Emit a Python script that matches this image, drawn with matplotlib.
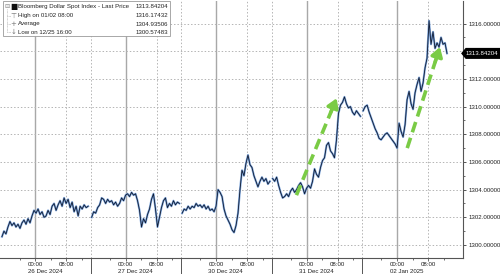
import numpy as np
import matplotlib
matplotlib.use('Agg')
import matplotlib.pyplot as plt
from matplotlib.patches import Rectangle, Polygon
from matplotlib.lines import Line2D
from matplotlib import font_manager

names = {f.name for f in font_manager.fontManager.ttflist}
main_font = 'Liberation Sans Narrow' if 'Liberation Sans Narrow' in names else 'Liberation Sans'
plt.rcParams['font.family'] = [main_font, 'DejaVu Sans']
FS = 5 if main_font == 'Liberation Sans Narrow' else 4.4

# sessions (trading day), hour offsets relative to midnight of that day
dates = ['26 Dec 2024', '27 Dec 2024', '30 Dec 2024', '31 Dec 2024', '02 Jan 2025']
hour_ranges = [(-8.5, 13.6), (-8.7, 13.8), (-8.7, 13.8), (-8.7, 13.8), (-8.7, 12.8)]

s26 = [1300.6, 1301.0, 1300.8, 1301.3, 1301.7, 1301.4, 1301.6, 1301.3, 1301.5, 1301.2,
       1301.6, 1301.8, 1301.5, 1301.9, 1301.6, 1302.1, 1302.5, 1302.3, 1302.6, 1302.2,
       1302.4, 1302.0, 1302.1, 1302.5, 1302.2, 1302.8, 1303.0, 1302.5, 1302.9, 1303.2,
       1302.8, 1303.4, 1303.0, 1303.3, 1302.7, 1303.1, 1302.4, 1302.8, 1302.1, 1302.8,
       1302.6, 1302.9, 1302.7, 1302.8]
s27 = [1302.0, 1302.4, 1302.3, 1302.7, 1302.9, 1303.4, 1303.3, 1303.0, 1303.3, 1303.1,
       1303.2, 1302.9, 1303.1, 1302.8, 1303.0, 1303.4, 1303.2, 1303.6, 1303.7, 1303.5,
       1303.8, 1303.6, 1303.7, 1303.2, 1302.5, 1301.3, 1301.9, 1301.6, 1302.2, 1302.6,
       1303.3, 1303.7, 1302.6, 1301.3, 1302.0, 1302.7, 1303.2, 1303.4, 1302.7, 1303.0,
       1302.8, 1303.2, 1302.9, 1303.1, 1303.0]
s30 = [1302.3, 1302.6, 1302.5, 1302.8, 1302.6, 1302.8, 1302.7, 1303.0, 1302.8, 1302.9,
       1302.7, 1302.9, 1302.6, 1302.8, 1302.5, 1302.6, 1302.4, 1302.8, 1304.0, 1303.8,
       1303.5, 1302.6, 1302.1, 1301.8, 1301.5, 1301.1, 1300.9, 1301.4, 1302.3, 1304.0,
       1305.4, 1305.0, 1305.9, 1306.5, 1305.8, 1305.6, 1305.0, 1304.6, 1304.2, 1304.6,
       1304.9, 1304.6, 1304.8, 1304.4, 1304.6]
s31 = [1304.8, 1304.6, 1304.9, 1304.3, 1303.8, 1303.4, 1303.5, 1303.7, 1303.5, 1303.9,
       1304.1, 1303.8, 1304.0, 1304.3, 1304.5, 1304.2, 1303.7, 1304.1, 1304.3, 1304.1,
       1304.6, 1305.5, 1305.1, 1304.9, 1305.6, 1306.1, 1306.3, 1307.2, 1307.4, 1306.8,
       1306.6, 1306.3, 1307.6, 1309.5, 1310.1, 1310.3, 1310.7, 1310.2, 1309.9, 1310.0,
       1309.6, 1309.4, 1309.7, 1309.5, 1309.3]
s02 = [1309.7, 1310.0, 1310.1, 1309.6, 1309.2, 1308.8, 1308.4, 1308.1, 1307.7, 1307.6,
       1307.8, 1308.0, 1308.1, 1307.9, 1307.7, 1307.5, 1307.3, 1307.0, 1308.8, 1308.2,
       1307.8, 1308.7, 1310.5, 1311.1, 1310.2, 1309.8, 1311.0, 1311.6, 1312.1, 1311.1,
       1311.7, 1312.8, 1313.5, 1316.2, 1314.5, 1315.4, 1314.2, 1314.6, 1314.3, 1315.0,
       1314.5, 1314.6, 1313.84204]
sessions = [s26, s27, s30, s31, s02]

legend_rows = ['Bloomberg Dollar Spot Index - Last Price', 'High on 01/02 08:00',
               'Average', 'Low on 12/25 16:00']
legend_vals = ['1313.84204', '1316.17432', '1304.93506', '1300.57483']
last_price = 1313.84204

# green arrows: (day, hour, value) tail -> head
arrows = [((3, -2.6, 1303.6), (3, 7.7, 1310.6)),
          ((4, 2.6, 1307.0), (4, 11.0, 1314.3))]

MID0, DAY = 9.0, 23.2   # chart-hour position of first midnight, session spacing


def tx(day, h):
    return MID0 + DAY * day + h


fig = plt.figure(figsize=(5, 2.74), dpi=100)
ax = fig.add_axes([0.0, 16 / 274, 0.926, 1 - 16 / 274 - 0.002])
ax.set_xlim(0, 118.7)
ax.set_ylim(1299.06, 1317.66)

# grid
yt = np.arange(1300, 1317, 2)
ax.set_yticks(yt)
ax.set_yticks(np.arange(1301, 1317, 2), minor=True)
ax.grid(axis='y', which='major', ls=(0, (1.5, 2)), color='#b4b4b4', lw=0.7)
for d in range(len(dates)):
    ax.axvline(tx(d, 0), color='#a8a8a8', lw=1.0, zorder=1)
    ax.axvline(tx(d, 8), color='#b4b4b4', lw=0.7, ls=(0, (1.5, 2)), zorder=1)
    if d < len(dates) - 1:
        ax.axvline(tx(d, 14.3), color='#b4b4b4', lw=0.7, ls=(0, (1.5, 2)), zorder=1)

# price line
for d, vals in enumerate(sessions):
    h = np.linspace(hour_ranges[d][0], hour_ranges[d][1], len(vals))
    x = tx(d, h)
    ax.plot(x, vals, color='#7ea6dc', lw=1.5, zorder=3)
    ax.plot(x, vals, color='#101a30', lw=0.6, zorder=4)

# green dashed arrows
for (d0, h0, v0), (d1, h1, v1) in arrows:
    x0, x1 = tx(d0, h0), tx(d1, h1)
    ax.plot([x0, x0 + (x1 - x0) * 0.9], [v0, v0 + (v1 - v0) * 0.9],
            color='#7acb45', lw=2.6, ls=(0, (3, 1.6)), zorder=5)
    ax.annotate('', xy=(x1, v1), xytext=(x0 + (x1 - x0) * 0.85, v0 + (v1 - v0) * 0.85),
                arrowprops=dict(arrowstyle='-|>,head_length=0.55,head_width=0.35',
                                color='#7acb45', lw=2.4, shrinkA=0, shrinkB=0),
                zorder=5)

# axes styling
for s in ['top', 'left']:
    ax.spines[s].set_visible(False)
ax.spines['right'].set_color('#555555')
ax.spines['bottom'].set_color('#555555')
ax.spines['right'].set_linewidth(0.8)
ax.spines['bottom'].set_linewidth(0.8)

ax.yaxis.tick_right()
# label hidden behind the last-price tag is left blank
ax.set_yticklabels(['' if abs(v - last_price) < 0.6 else f'{v:.5f}' for v in yt])
ax.tick_params(axis='y', which='major', labelsize=FS, length=2.5, width=0.7,
               color='#555555', pad=1.2, labelcolor='#222222')
ax.tick_params(axis='y', which='minor', length=1.5, width=0.6, color='#555555')

major_x, major_lbl, minor_x = [], [], []
for d in range(len(dates)):
    major_x += [tx(d, 0), tx(d, 8)]
    major_lbl += ['00:00', '08:00']
    minor_x += [tx(d, -4), tx(d, 4), tx(d, 12)]
ax.set_xticks(major_x)
ax.set_xticklabels(major_lbl)
ax.set_xticks(minor_x, minor=True)
ax.tick_params(axis='x', which='major', labelsize=FS, length=2, width=0.6,
               color='#555555', pad=0.6, labelcolor='#222222')
ax.tick_params(axis='x', which='minor', length=1.5, width=0.6, color='#555555')

for d, lbl in enumerate(dates):
    ax.annotate(lbl, xy=(tx(d, 2.5), 0), xycoords=('data', 'axes fraction'),
                xytext=(0, -9.6), textcoords='offset points', ha='center', va='center',
                fontsize=FS, color='#222222', annotation_clip=False)
    if d < len(dates) - 1:
        ax.plot([tx(d, 14.3)] * 2, [0, -0.07], transform=ax.get_xaxis_transform(),
                color='#555555', lw=0.7, clip_on=False)

# legend box
fig.patches.append(Rectangle((3 / 500, 1 - 36 / 274), 167 / 500, 35 / 274,
                             transform=fig.transFigure, fc='white', ec='#9a9a9a',
                             lw=0.6, zorder=5))
row_y = [6.7, 15.7, 24.0, 32.3]
syms = ['■', '⊤', '+', '↓']
for i in range(4):
    fy = 1 - row_y[i] / 274
    fig.text(18 / 500, fy, legend_rows[i], fontsize=FS, va='center', color='#222222', zorder=6)
    fig.text(168 / 500, fy, legend_vals[i], fontsize=FS, va='center', ha='right',
             color='#222222', zorder=6)
    fig.text(13.5 / 500, fy, syms[i], fontsize=5 if i else 5.5, va='center', ha='center',
             color='#111111' if i == 0 else '#777777', family='DejaVu Sans', zorder=6)
# tree lines in legend
fig.lines.append(Line2D([7 / 500, 7 / 500], [1 - 9 / 274, 1 - 32.3 / 274],
                        transform=fig.transFigure, color='#aaaaaa', lw=0.5,
                        ls=(0, (1, 1)), zorder=6))
for i in range(1, 4):
    fig.lines.append(Line2D([7 / 500, 10.5 / 500], [1 - row_y[i] / 274] * 2,
                            transform=fig.transFigure, color='#aaaaaa', lw=0.5,
                            ls=(0, (1, 1)), zorder=6))
fig.text(7 / 500, 1 - 6 / 274, '⊟', fontsize=4.5, va='center', ha='center',
         color='#888888', family='DejaVu Sans', zorder=6)

# last price tag
yd = ax.transData.transform((0, last_price))[1]
fy = yd / fig.bbox.height
hh = 4.8 / 274
x0 = 462 / 500
fig.patches.append(Polygon([(x0, fy), (x0 + 4 / 500, fy + hh), (1.0, fy + hh),
                            (1.0, fy - hh), (x0 + 4 / 500, fy - hh)],
                           closed=True, transform=fig.transFigure, fc='black',
                           ec='black', zorder=7))
fig.text(466 / 500, fy, f'{last_price:.5f}', fontsize=FS, va='center', ha='left',
         color='white', zorder=8)

fig.savefig('out.png', dpi=100)
